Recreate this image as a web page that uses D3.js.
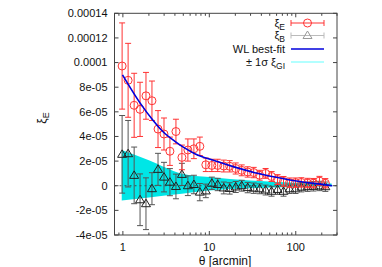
<!DOCTYPE html>
<html><head><meta charset="utf-8">
<script src="https://cdn.jsdelivr.net/npm/d3@7"></script>
<style>
body{margin:0;background:#fff;}
svg{display:block;font-family:"Liberation Sans",Arial,sans-serif;}
</style></head><body>
<svg id="c" width="382" height="267"></svg>
<script>
const theta = [0.98,1.15,1.35,1.58,1.85,2.17,2.55,2.99,3.50,4.11,4.82,5.65,6.63,7.77,9.11,10.7,12.5,14.7,17.2,20.2,23.7,27.8,32.6,38.2,44.8,52.5,61.6,72.2,84.7,99.3,116,137,160,188,220];
const xiE = [9.72,8.56,6.53,6.2,7.3,6.9,4.6,4.2,2.8,4.4,2.3,2.9,3.0,3.2,1.7,1.65,1.65,1.6,1.58,1.4,1.25,1.12,1.07,0.85,1.0,0.75,0.5,0.35,0.25,0.25,0.27,0.22,0.21,0.38,0.2].map(v=>v*1e-5);
const xiEerr = [3.5,3.0,2.6,2.2,1.9,1.6,1.5,1.3,1.15,1.0,1.0,0.9,0.8,0.75,0.55,0.5,0.5,0.48,0.46,0.45,0.44,0.42,0.42,0.4,0.4,0.4,0.4,0.4,0.38,0.38,0.38,0.38,0.38,0.38,0.38].map(v=>v*1e-5);
const xiB = [2.55,2.6,0.84,-1.14,-1.46,-0.24,1.33,0.7,0.29,-0.06,0.92,0.0,0.1,-0.52,-0.42,0.2,0.1,-0.18,-0.22,-0.1,0.0,-0.15,-0.2,-0.25,-0.35,-0.45,-0.3,-0.45,-0.25,-0.25,-0.12,-0.08,-0.05,-0.02,-0.08].map(v=>v*1e-5);
const xiBerr = [3.15,2.7,2.3,2.1,2.1,1.3,1.3,1.2,1.1,1.0,0.9,0.8,0.75,0.7,0.55,0.5,0.5,0.48,0.46,0.45,0.44,0.42,0.42,0.4,0.4,0.4,0.4,0.4,0.38,0.38,0.38,0.38,0.38,0.38,0.38].map(v=>v*1e-5);
const fitTheta = [0.99,1.57,2.24,2.9,4.0,4.95,6.8,11.6,19.7,33.5,40.4,82.5,153,265];
const fitVal = [9.0,6.75,5.3,4.4,3.6,3.15,2.6,2.02,1.51,1.06,0.93,0.49,0.21,0.0].map(v=>v*1e-5);
const bandTheta = [0.97,2.0,4.8,10,30,100,260];
const bandUp = [2.9,2.07,0.98,0.7,0.43,0.25,0.18].map(v=>v*1e-5);
const bandLo = [-1.2,-0.95,-0.65,-0.38,-0.2,-0.1,-0.05].map(v=>v*1e-5);
const yTicks = [-4e-5,-2e-5,0,2e-5,4e-5,6e-5,8e-5,1e-4,1.2e-4,1.4e-4];
const yTickLabels = ["-4e-05","-2e-05","0","2e-05","4e-05","6e-05","8e-05","0.0001","0.00012","0.00014"];
const xTicks = [1,10,100];
const xTickLabels = ["1","10","100"];

const svg = d3.select("#c");
const L=114.5,R=337,T=13.3,B=235;
const x = d3.scaleLog().domain([0.8,300]).range([L,R]);
const y = d3.scaleLinear().domain([-4e-5,1.4e-4]).range([B,T]);

// band
const band = bandTheta.map((t,i)=>({t,u:bandUp[i],l:bandLo[i]}));
svg.append("path").datum(band)
  .attr("d", d3.area().x(d=>x(d.t)).y0(d=>y(d.l)).y1(d=>y(d.u)).curve(d3.curveMonotoneX))
  .attr("fill","#00e6e6");

// zero line
svg.append("line").attr("x1",L).attr("x2",R).attr("y1",y(0)).attr("y2",y(0))
  .attr("stroke","#333").attr("stroke-width",0.8).attr("stroke-dasharray","2,3");

// xiB
const gB = svg.append("g");
theta.forEach((t,i)=>{
  const cx=x(t), v=xiB[i], e=xiBerr[i];
  gB.append("line").attr("x1",cx).attr("x2",cx).attr("y1",y(v-e)).attr("y2",y(v+e)).attr("stroke","#555").attr("stroke-width",1);
  [v-e,v+e].forEach(q=>gB.append("line").attr("x1",cx-3).attr("x2",cx+3).attr("y1",y(q)).attr("y2",y(q)).attr("stroke","#555").attr("stroke-width",1));
  gB.append("path").attr("d",`M${cx},${y(v)-4.5}L${cx+4.5},${y(v)+3}L${cx-4.5},${y(v)+3}Z`).attr("fill","none").attr("stroke","#222").attr("stroke-width",1);
});

// xiE
const gE = svg.append("g");
const red="#ff3333";
theta.forEach((t,i)=>{
  const cx=x(t), v=xiE[i], e=xiEerr[i];
  gE.append("line").attr("x1",cx).attr("x2",cx).attr("y1",y(v-e)).attr("y2",y(v+e)).attr("stroke",red).attr("stroke-width",1);
  [v-e,v+e].forEach(q=>gE.append("line").attr("x1",cx-3).attr("x2",cx+3).attr("y1",y(q)).attr("y2",y(q)).attr("stroke",red).attr("stroke-width",1));
  gE.append("circle").attr("cx",cx).attr("cy",y(v)).attr("r",4).attr("fill","none").attr("stroke",red).attr("stroke-width",1);
});

// fit
svg.append("path").datum(fitTheta.map((t,i)=>[t,fitVal[i]]))
  .attr("d", d3.line().x(d=>x(d[0])).y(d=>y(d[1])).curve(d3.curveMonotoneX))
  .attr("fill","none").attr("stroke","#0000dd").attr("stroke-width",1.6);

// frame
const ax="#444";
svg.append("rect").attr("x",L).attr("y",T).attr("width",R-L).attr("height",B-T).attr("fill","none").attr("stroke",ax).attr("stroke-width",1);

// y ticks
yTicks.forEach((v,i)=>{
  const yy=y(v);
  svg.append("line").attr("x1",L).attr("x2",L+4).attr("y1",yy).attr("y2",yy).attr("stroke",ax);
  svg.append("line").attr("x1",R).attr("x2",R-4).attr("y1",yy).attr("y2",yy).attr("stroke",ax);
  svg.append("text").attr("x",L-7).attr("y",yy).attr("dy","0.35em").attr("text-anchor","end")
    .attr("font-size",11).attr("fill","#111").text(yTickLabels[i]);
});
// x ticks
const minor=[];
[0.1,1,10,100].forEach(d=>{for(let k=1;k<10;k++){const v=d*k; if(v>=0.8&&v<=300) minor.push(v);}});
minor.forEach(v=>{
  const xx=x(v), maj=xTicks.includes(v), len=maj?4:2.5;
  svg.append("line").attr("x1",xx).attr("x2",xx).attr("y1",B).attr("y2",B-len).attr("stroke",ax);
  svg.append("line").attr("x1",xx).attr("x2",xx).attr("y1",T).attr("y2",T+len).attr("stroke",ax);
});
xTicks.forEach((v,i)=>{
  svg.append("text").attr("x",x(v)).attr("y",B+16).attr("text-anchor","middle")
    .attr("font-size",11).attr("fill","#111").text(xTickLabels[i]);
});

// axis labels
svg.append("text").attr("x",225).attr("y",265).attr("text-anchor","middle").attr("font-size",12).attr("fill","#111").text("θ [arcmin]");
const yl = svg.append("text").attr("transform","translate(46,118) rotate(-90)").attr("text-anchor","middle").attr("font-size",12).attr("fill","#111");
yl.append("tspan").text("ξ");
yl.append("tspan").attr("font-size",9).attr("dy",3).text("E");

// legend
const lx0=291, lx1=324, tx=285;
const rows=[23,35.5,49,62];
function legText(yy, main, sub){
  const t=svg.append("text").attr("x",tx).attr("y",yy).attr("dy","0.35em").attr("text-anchor","end").attr("font-size",11).attr("fill","#111");
  t.append("tspan").text(main);
  if(sub){t.append("tspan").attr("font-size",8.5).attr("dy",3).text(sub);}
}
legText(rows[0],"ξ","E");
legText(rows[1],"ξ","B");
legText(rows[2],"WL best-fit",null);
legText(rows[3],"± 1σ ξ","GI");
// E sample
svg.append("line").attr("x1",lx0).attr("x2",lx1).attr("y1",rows[0]).attr("y2",rows[0]).attr("stroke",red);
[lx0,lx1].forEach(xx=>svg.append("line").attr("x1",xx).attr("x2",xx).attr("y1",rows[0]-3).attr("y2",rows[0]+3).attr("stroke",red));
svg.append("circle").attr("cx",(lx0+lx1)/2).attr("cy",rows[0]).attr("r",4).attr("fill","none").attr("stroke",red);
// B sample
const gray="#bbbbbb";
svg.append("line").attr("x1",lx0).attr("x2",lx1).attr("y1",rows[1]).attr("y2",rows[1]).attr("stroke",gray);
[lx0,lx1].forEach(xx=>svg.append("line").attr("x1",xx).attr("x2",xx).attr("y1",rows[1]-3).attr("y2",rows[1]+3).attr("stroke",gray));
{const cx=(lx0+lx1)/2, cy=rows[1];
svg.append("path").attr("d",`M${cx},${cy-4.5}L${cx+4.5},${cy+3}L${cx-4.5},${cy+3}Z`).attr("fill","none").attr("stroke","#999");}
// fit sample
svg.append("line").attr("x1",lx0).attr("x2",lx1).attr("y1",rows[2]).attr("y2",rows[2]).attr("stroke","#0000dd").attr("stroke-width",1.6);
// band sample
svg.append("line").attr("x1",lx0).attr("x2",lx1).attr("y1",rows[3]).attr("y2",rows[3]).attr("stroke","#99ffff").attr("stroke-width",1.5);
</script></body></html>
